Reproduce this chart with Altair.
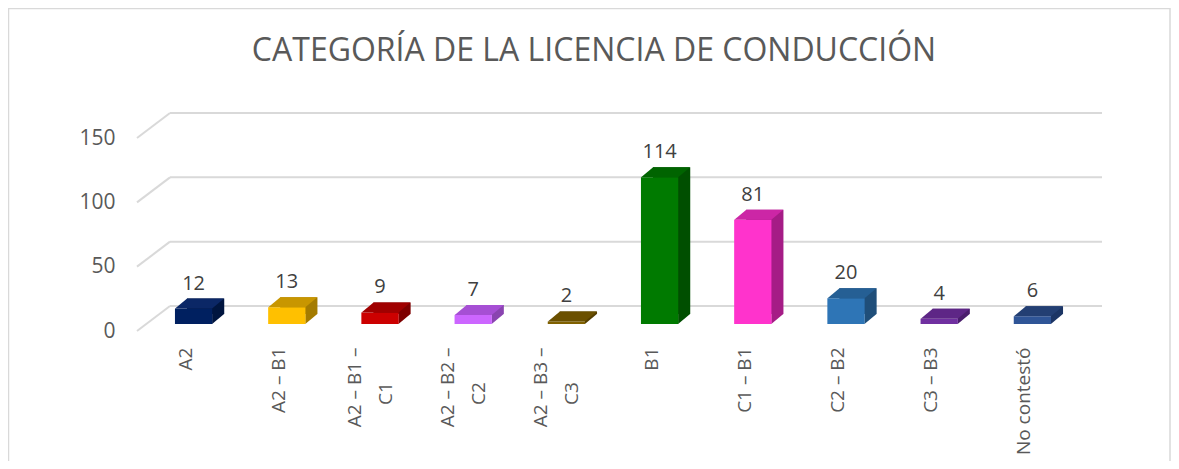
import altair as alt
import pandas as pd

categories = ["A2", "A2 – B1", "A2 – B1 – C1", "A2 – B2 – C2", "A2 – B3 – C3",
              "B1", "C1 – B1", "C2 – B2", "C3 – B3", "No contestó"]
values = [12, 13, 9, 7, 2, 114, 81, 20, 4, 6]

front_colors = ["#002060", "#FFC000", "#CC0000", "#CC66FF", "#7F6000",
                "#007A00", "#FF33CC", "#2E75B6", "#7030A0", "#2F5597"]
top_colors = ["#0B2766", "#C89600", "#A00000", "#A64FD4", "#6B5000",
              "#006400", "#CC26A6", "#255F94", "#5E2686", "#233F73"]
side_colors = ["#00153F", "#A47B00", "#7E0000", "#8A44B0", "#553F00",
               "#004F00", "#A51C86", "#1F4E79", "#4A1D6C", "#1C3564"]

grid_values = [0, 50, 100, 150]

TITLE = "CATEGORÍA DE LA LICENCIA DE CONDUCCIÓN"
W, H = 932, 193
FONT = "Open Sans"
NB = "\u00a0" * 7 + "\u200b"

df = pd.DataFrame({"cat": categories, "v": values})
grid_df = pd.DataFrame({"g": grid_values})
frame_df = pd.DataFrame({"a": [0]})

MULTI = "indexof(datum.label, ' – C') > 0"
x_axis = alt.Axis(
    title=None, domain=False, ticks=False, labelAngle=270,
    labelAlign="right", labelBaseline="middle",
    labelPadding=16, labelLineHeight=31,
    labelOffset={"condition": {"test": MULTI, "value": -15}, "value": 2},
    labelFont=FONT, labelFontSize=19, labelColor="#595959",
    labelExpr=MULTI + " ? [slice(datum.label, 0, indexof(datum.label, ' – C') + 2), "
              "slice(datum.label, indexof(datum.label, ' – C') + 3) + '" + NB + "'] : datum.label")
x_enc = alt.X("cat:N", sort=categories,
              scale=alt.Scale(paddingInner=0.6, paddingOuter=0.3), axis=x_axis)
y_scale = alt.Scale(domain=[0, 150], nice=False)
y_axis = alt.Axis(title=None, domain=False, ticks=False, grid=False,
                  values=grid_values, labelPadding=22,
                  labelFont=FONT, labelFontSize=21, labelColor="#595959")
y_enc = alt.Y("v:Q", scale=y_scale, axis=y_axis)


def col(pal):
    return alt.Color("cat:N", scale=alt.Scale(domain=categories, range=pal), legend=None)


frame = alt.Chart(frame_df).mark_rect(filled=False, stroke="#D9D9D9", strokeWidth=1.5).encode(
    x=alt.value(-128.5), x2=alt.value(1033), y=alt.value(-129.5), y2=alt.value(340))

grid_diag = alt.Chart(grid_df).mark_rule(color="#D9D9D9", strokeWidth=2, y2Offset=-25).encode(
    y=alt.Y("g:Q", scale=y_scale, axis=y_axis), y2="g:Q",
    x=alt.value(0), x2=alt.value(33))
grid_h = alt.Chart(grid_df).mark_rule(color="#D9D9D9", strokeWidth=2, yOffset=-25).encode(
    y=alt.Y("g:Q", scale=y_scale, axis=y_axis), x=alt.value(33), x2=alt.value(965))

base = alt.Chart(df)
side = base.mark_bar(xOffset=22, yOffset=-17, y2Offset=-17).encode(
    x=x_enc, y=y_enc, color=col(side_colors))
tri = base.mark_point(shape="M0.5968,0 L0.5968,-0.3226 L0.9839,-0.3226 Z", size=3844,
                      filled=True, opacity=1, strokeWidth=0, xOffset=10, yOffset=-7).encode(
    x=x_enc, y=alt.datum(0, scale=y_scale, axis=y_axis), color=col(side_colors))
front = base.mark_bar(xOffset=10, yOffset=-7, y2Offset=-7).encode(
    x=x_enc, y=y_enc, color=col(front_colors))
top = base.mark_point(shape="M-0.5968,0 L0.5968,0 L0.9839,-0.3226 L-0.2097,-0.3226 Z", size=3844,
                      filled=True, opacity=1, strokeWidth=0, xOffset=10, yOffset=-7).encode(
    x=x_enc, y=y_enc, color=col(top_colors))
labels = base.mark_text(font=FONT, fontSize=20, color="#404040", baseline="alphabetic",
                        xOffset=10, yOffset=-26).encode(
    x=x_enc, y=y_enc, text="v:Q")

chart = alt.layer(frame, grid_diag, grid_h, side, tri, front, top, labels).resolve_scale(
    color="independent"
).properties(
    width=W, height=H,
    title=alt.TitleParams(TITLE, font=FONT, fontSize=32, fontWeight="normal",
                          color="#595959", anchor="middle", dx=-9, offset=0,
                          baseline="alphabetic", dy=85),
    autosize=alt.AutoSizeParams(type="none"),
    padding={"left": 129, "top": 130, "right": 102, "bottom": 130},
).configure(background="white").configure_view(stroke=None)

chart.save("out.html", embed_options={"renderer": "svg", "actions": False})
